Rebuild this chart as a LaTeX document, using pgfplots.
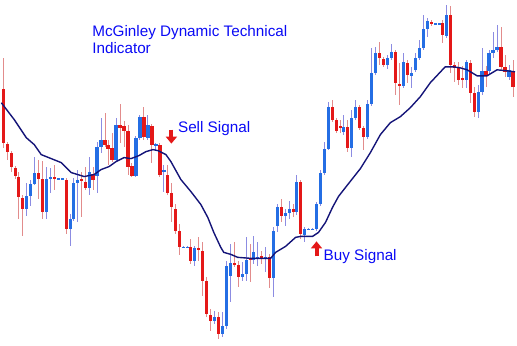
\documentclass[border=0pt]{standalone}
\usepackage{pgfplots}
\usepackage{pgfplotstable}
\usepackage{fontspec}
\setmainfont{Liberation Sans}
\pgfplotsset{compat=1.18}
\usetikzlibrary{arrows.meta}
\definecolor{cred}{RGB}{228,24,24}
\definecolor{cblue}{RGB}{36,110,228}
\definecolor{wred}{RGB}{226,140,140}
\definecolor{wblue}{RGB}{140,140,226}
\definecolor{navy}{RGB}{20,20,120}
\definecolor{tblue}{RGB}{10,10,245}
% x, high(top y), low(bottom y), body top, body bottom  (pixel coordinates, y downwards)
\pgfplotstableread{
x h l t b
2 58 148 89 143
6 142 160 144 152
10 151 172 153 167
14 166 179 168 176
17 172 220 177 198
21 195 237 199 210
37 160 200 173 179
41 161 220 179 213
53 165 190 177 179
65 178 235 180 230
80 172 218 179 181
84 167 190 182 188
92 167 190 174 180
104 113 147 140 145
107 140 165 145 149
111 133 162 148 160
119 104 143 125 128
123 121 147 126 131
127 125 175 131 167
131 163 177 166 176
143 107 140 117 137
151 124 163 126 145
159 143 177 145 175
167 165 195 175 193
171 183 223 193 208
175 205 235 210 232
179 225 256 232 248
190 240 265 248 262
198 238 262 249 251
202 243 297 252 282
206 278 318 282 315
210 310 332 316 322
218 313 340 318 335
234 243 268 264 266
238 262 288 266 278
250 245 283 259 261
261 252 265 257 260
269 255 289 258 279
281 200 223 208 217
293 205 218 210 213
300 180 240 182 235
332 100 122 107 120
336 118 133 120 131
340 120 133 126 128
347 120 152 127 148
359 105 130 107 128
363 126 150 128 137
379 42 65 53 58
383 57 67 59 65
395 50 95 52 83
399 63 105 84 86
407 60 83 63 75
431 20 26 22 24
442 20 43 23 35
450 6 73 15 65
454 62 82 65 68
458 62 85 68 80
462 66 88 78 80
470 60 103 63 93
474 87 117 93 112
486 66 87 71 76
501 27 70 47 67
505 55 77 67 72
513 60 97 71 87
}\reddata
\pgfplotstableread{
x h l t b
25 183 217 197 210
29 180 207 184 197
33 157 185 173 184
45 167 220 179 213
49 168 193 177 179
57 178 180 178.5 179.5
61 178 180 178.5 179.5
69 215 247 220 230
72 178 222 183 220
76 170 223 180 183
88 157 195 172 188
96 142 193 147 176
100 118 153 140 147
115 118 162 125 160
135 136 177 138 176
139 115 140 117 138
147 115 140 125 138
155 143 150 144 146
163 165 192 170 172
183 247 249 247.5 248.5
187 247 249 247.5 248.5
194 247 267 249 262
214 312 325 318 322
222 313 338 327 335
226 262 330 267 327
230 245 303 264 277
242 263 282 275 278
246 238 282 261 275
253 237 265 253 261
257 243 267 258 260
265 248 273 258 260
273 228 298 232 279
277 205 233 208 227
285 210 227 214 217
289 202 220 210 214
296 175 216 182 213
304 228 243 230 236
308 229 231 229.5 230.5
312 229 231 229.5 230.5
316 203 232 205 230
320 170 207 173 205
324 142 175 149 173
328 102 150 107 149
343 115 135 127 132
351 110 157 118 148
355 100 120 107 118
367 100 139 104 137
371 48 106 73 104
375 47 75 53 73
387 55 69 58 65
391 44 60 52 58
403 53 88 62 86
411 67 88 73 76
415 53 72 58 70
419 40 60 48 58
423 15 50 29 48
427 18 37 21 29
435 23 25 23.5 24.5
439 23 25 23.5 24.5
446 5 38 15 36
466 60 88 62 80
478 85 118 92 112
482 48 95 71 92
489 50 75 53 71
493 32 58 50 53
497 25 52 47 50
509 65 80 70 77
}\bluedata
\begin{document}
\begin{tikzpicture}
\begin{axis}[width=517pt,height=346pt,scale only axis,
  xmin=0,xmax=517,ymin=0,ymax=346,y dir=reverse,
  hide axis,clip=false]
\path (axis cs:0,0) rectangle (axis cs:517,346);
% wicks
\addplot[draw=none,mark=none,forget plot,
  error bars/.cd,y dir=both,y explicit,error mark=none,
  error bar style={draw=wred,line width=1pt}]
  table[x=x,y expr={(\thisrow{h}+\thisrow{l})/2},y error expr={(\thisrow{l}-\thisrow{h})/2}] {\reddata};
\addplot[draw=none,mark=none,forget plot,
  error bars/.cd,y dir=both,y explicit,error mark=none,
  error bar style={draw=wblue,line width=1pt}]
  table[x=x,y expr={(\thisrow{h}+\thisrow{l})/2},y error expr={(\thisrow{l}-\thisrow{h})/2}] {\bluedata};
% bodies
\addplot[draw=none,mark=none,forget plot,
  error bars/.cd,y dir=both,y explicit,error mark=none,
  error bar style={draw=cred,line width=3.2pt}]
  table[x=x,y expr={(\thisrow{t}+\thisrow{b})/2},y error expr={(\thisrow{b}-\thisrow{t})/2}] {\reddata};
\addplot[draw=none,mark=none,forget plot,
  error bars/.cd,y dir=both,y explicit,error mark=none,
  error bar style={draw=cblue,line width=3.2pt}]
  table[x=x,y expr={(\thisrow{t}+\thisrow{b})/2},y error expr={(\thisrow{b}-\thisrow{t})/2}] {\bluedata};
% McGinley Dynamic line
\addplot[navy,line width=1.4pt,mark=none] coordinates {
(0,103)(13,120)(25,138)(33,145)(40,155)(50,159)(60,163)(70,173)(83,177)(93,175)(100,170)(108,167)(115,162)(123,158)(130,159)(138,156)(145,152)(152,150)(157,151)(165,155)(170,162)(180,180)(190,192)(200,205)(207,218)(213,233)(220,248)(223,253)(230,255)(237,258)(250,259)(260,259)(270,259)(275,253)(285,247)(295,238)(300,237)(312,237)(318,233)(325,223)(332,208)(338,197)(345,188)(360,169)(370,153)(380,135)(390,123)(400,117)(410,108)(420,97)(430,83)(445,67)(453,67)(460,68)(467,70)(477,76)(487,76)(497,70)(507,71)(515,72)
};
% annotations
\draw[cred,line width=4pt,-{Triangle[width=11pt,length=7pt]}] (axis cs:170.5,130) -- (axis cs:170.5,144);
\draw[cred,line width=4pt,-{Triangle[width=11pt,length=7pt]}] (axis cs:316,257) -- (axis cs:316,242);
\node[anchor=base west,text=tblue,font=\fontsize{15.3}{17}\selectfont,inner sep=0pt] at (axis cs:91,37) {McGinley Dynamic Technical};
\node[anchor=base west,text=tblue,font=\fontsize{15.3}{17}\selectfont,inner sep=0pt] at (axis cs:91,54) {Indicator};
\node[anchor=base west,text=tblue,font=\fontsize{15.3}{17}\selectfont,inner sep=0pt] at (axis cs:177,133) {Sell Signal};
\node[anchor=base west,text=tblue,font=\fontsize{15.3}{17}\selectfont,inner sep=0pt] at (axis cs:323,261) {Buy Signal};
\end{axis}
\end{tikzpicture}
\end{document}
